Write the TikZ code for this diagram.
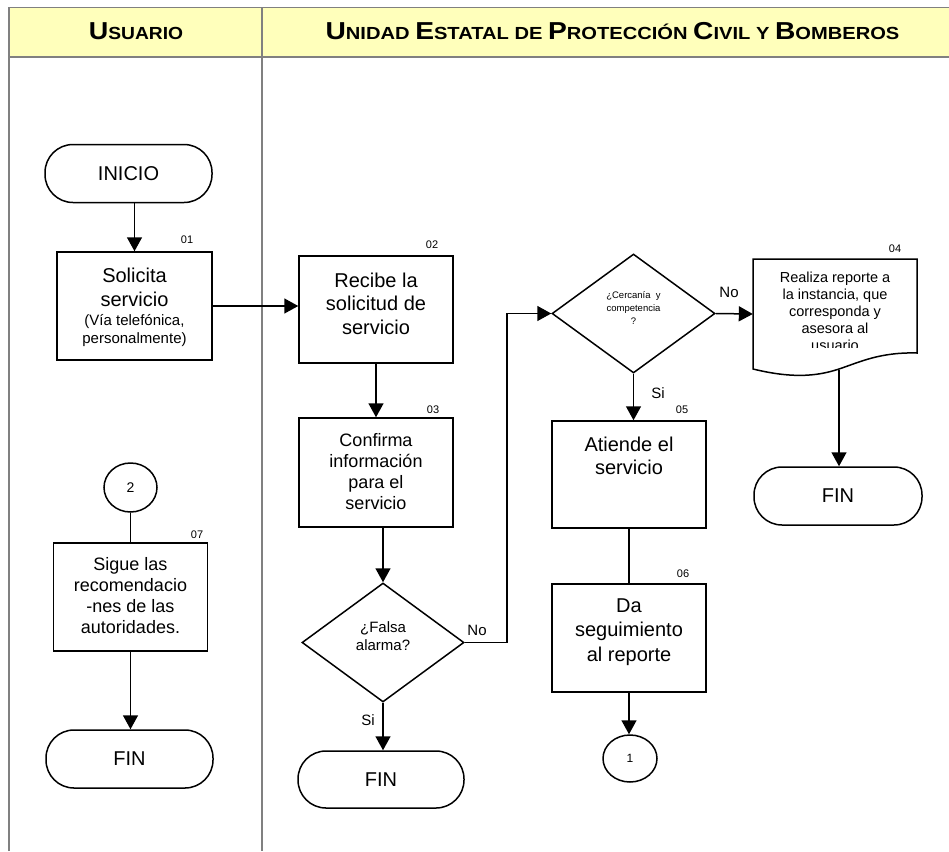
\documentclass[tikz,border=0pt]{standalone}
\usepackage{fontspec}
\setmainfont{Liberation Sans}
\usetikzlibrary{shapes.geometric,arrows.meta}
\definecolor{hdryellow}{HTML}{FFFFBB}
\definecolor{linegray}{HTML}{808080}
\newcommand\hdrbig[1]{{\fontsize{24.5}{26}\selectfont #1}}
\tikzset{
  lw/.style={line width=1.5pt},
  boxnode/.style={draw, line width=1.5pt, inner sep=0pt},
  term/.style={draw, line width=1.5pt, rounded corners=28pt, inner sep=0pt, minimum height=58pt, font=\fontsize{20}{24}\selectfont},
  dia/.style={diamond, draw, line width=1.5pt, inner sep=0pt},
  circ/.style={ellipse, draw, line width=1.5pt, inner sep=0pt},
  conn/.style={line width=1.5pt},
  arr/.style={conn, -{Triangle[length=14pt,width=15pt]}},
  txt/.style={align=center, inner sep=0pt},
  num/.style={font=\fontsize{11}{13}\selectfont, inner sep=0pt},
  lbl/.style={font=\fontsize{15}{18}\selectfont, inner sep=0pt},
  hdr/.style={font=\bfseries\fontsize{17.5}{20}\selectfont, inner sep=0pt, anchor=base},
}
\begin{document}
\begin{tikzpicture}[x=1pt,y=-1pt]
\useasboundingbox (0,0) rectangle (949,851);
\fill[white] (0,0) rectangle (949,851);
% table
\fill[hdryellow] (9,7.5) rectangle (949,57);
\draw[linegray, lw] (9,851) -- (9,7.5) -- (949,7.5);
\draw[linegray, lw] (9,57) -- (949,57);
\draw[linegray, lw] (262,7.5) -- (262,851);
\node[hdr] (h1) at (136,40) {\scalebox{1.1}[1]{\hdrbig{U}SUARIO}};
\node[hdr] (h2) at (612.5,40) {\scalebox{1.15}[1]{\hdrbig{U}NIDAD \hdrbig{E}STATAL DE \hdrbig{P}ROTECCIÓN \hdrbig{C}IVIL Y \hdrbig{B}OMBEROS}};

% Usuario lane
\node[term, minimum width=167pt] (ini) at (128.5,173.5) {INICIO};
\node[boxnode, minimum width=155pt, minimum height=108pt] (b01) at (134.5,306) {};
\node[txt, font=\fontsize{20}{24.5}\selectfont] (b01t) at (134.5,287.5) {Solicita\\servicio};
\node[txt, font=\fontsize{15}{18}\selectfont] (b01s) at (134.5,331) {(Vía telefónica,\\personalmente)};
\node[num] (n01) at (187,240) {01};

\node[circ, minimum width=53pt, minimum height=49pt, font=\fontsize{14}{16}\selectfont] (c2) at (130.5,487.5) {2};
\node[boxnode, minimum width=154pt, minimum height=108pt] (b07) at (130.5,597) {};
\node[txt, font=\fontsize{18}{21}\selectfont] (b07t) at (130.5,596) {Sigue las\\recomendacio\\-nes de las\\autoridades.};
\node[num] (n07) at (197,535) {07};
\node[term, minimum width=167pt] (fin2) at (129.5,759) {FIN};

% Unidad lane
\node[boxnode, minimum width=154pt, minimum height=107pt] (b02) at (376,309.5) {};
\node[txt, font=\fontsize{20}{23.5}\selectfont] (b02t) at (376,303.5) {Recibe la\\solicitud de\\servicio};
\node[num] (n02) at (432,245) {02};

\node[boxnode, minimum width=154pt, minimum height=109pt] (b03) at (376,472.5) {};
\node[txt, font=\fontsize{18}{21}\selectfont] (b03t) at (376,471.5) {Confirma\\información\\para el\\servicio};
\node[num] (n03) at (433,410) {03};

\node[dia, minimum width=162pt, minimum height=119pt] (d1) at (383,642.5) {};
\node[txt, font=\fontsize{15}{18}\selectfont] (d1t) at (383,636) {¿Falsa\\alarma?};
\node[lbl] (no1) at (477,630) {No};
\node[lbl] (si1) at (368,720) {Si};
\node[term, minimum width=166pt, minimum height=57pt] (fin1) at (381,779.5) {FIN};
\coordinate (k) at (507,642.5);

\node[dia, minimum width=163pt, minimum height=119pt] (d2) at (633.5,313.5) {};
\node[txt, font=\fontsize{9.5}{13}\selectfont] (d2t) at (633.5,308) {¿Cercanía\ \ y\\competencia\\?};
\node[lbl] (no2) at (729,292) {No};
\node[lbl] (si2) at (658,393) {Si};

% document shape 04
\draw[lw] (753,259) -- (917,259) -- (917,353)
  .. controls (880,352) and (860,362) .. (839,369)
  .. controls (815,377) and (790,378) .. (753,369) -- cycle;
\node[inner sep=0pt, minimum width=164pt, minimum height=110pt] (doc) at (835,314) {};
\begin{scope}
\clip (755,262) rectangle (915,347);
\node[txt, font=\fontsize{14.5}{17}\selectfont] (doct) at (835,311) {Realiza reporte a\\la instancia, que\\corresponda y\\asesora al\\usuario};
\end{scope}
\node[num] (n04) at (895,249) {04};
\coordinate (docb) at (839,370);
\node[term, minimum width=168pt, minimum height=58pt] (fin3) at (838,496) {FIN};

\node[boxnode, minimum width=154pt, minimum height=107pt] (b05) at (629,474.5) {};
\node[txt, font=\fontsize{20}{23.5}\selectfont] (b05t) at (629,456) {Atiende el\\servicio};
\node[num] (n05) at (682,410) {05};

\node[boxnode, minimum width=154pt, minimum height=108pt] (b06) at (629,638) {};
\node[txt, font=\fontsize{20}{24.5}\selectfont] (b06t) at (629,632) {Da\\seguimiento\\al reporte};
\node[num] (n06) at (683,574) {06};

\node[circ, minimum width=54pt, minimum height=47pt, font=\fontsize{12}{14}\selectfont] (c1) at (630,758.5) {1};

% connectors
\draw[arr] (b01.north |- ini.south) -- (b01.north);
\draw[arr] (b01.east) -- (b01.east -| b02.west);
\draw[arr] (b02.south) -- (b03.north);
\draw[arr] (d1.north |- b03.south) -- (d1.north);
\draw[arr] (d1.east) -- (k) |- (d2.west);
\draw[arr] (d1.south) -- (d1.south |- fin1.north);
\draw[arr] (d2.east) -- (doc.west);
\draw[arr] (d2.south) -- (d2.south |- b05.north);
\draw[conn] (b05.south) -- (b06.north);
\draw[arr] (b06.south) -- (b06.south |- c1.north);
\draw[arr] (docb) -- (docb |- fin3.north);
\draw[conn] (c2.south) -- (c2.south |- b07.north);
\draw[arr] (b07.south) -- (b07.south |- fin2.north);
\end{tikzpicture}
\end{document}
